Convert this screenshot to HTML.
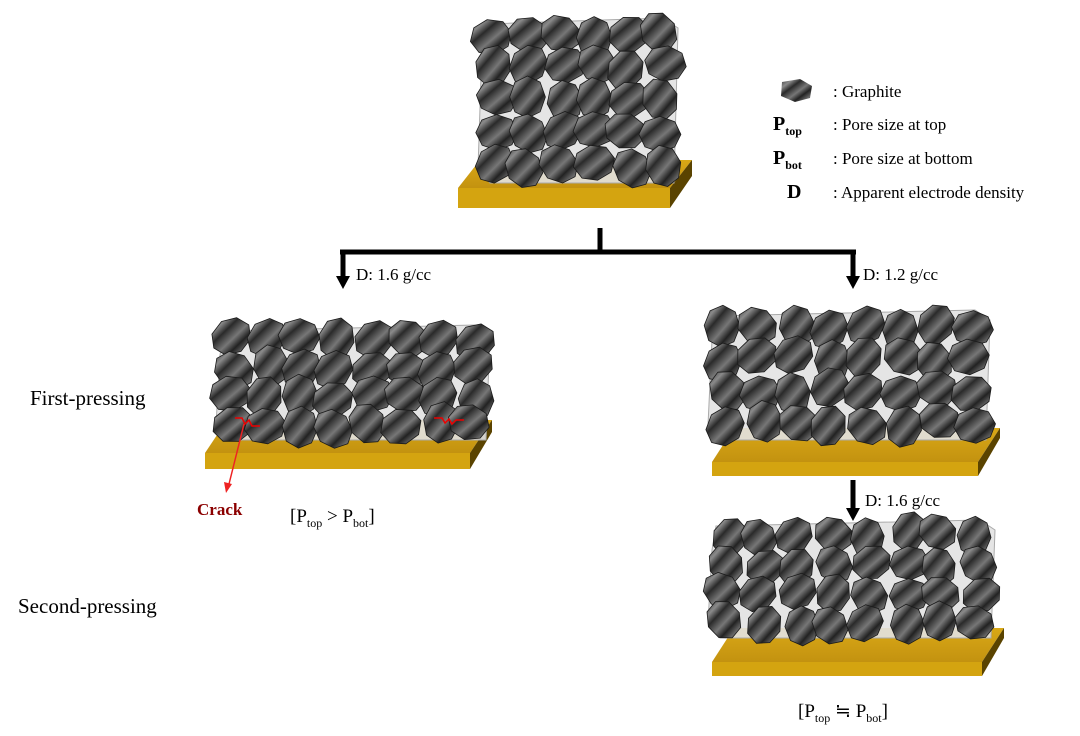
<!DOCTYPE html>
<html><head><meta charset="utf-8"><style>
body{margin:0;background:#fff;width:1080px;height:736px;overflow:hidden}
svg{position:absolute;left:0;top:0}
text{font-family:"Liberation Serif",serif;fill:#000}
</style></head><body>
<svg id="s" width="1080" height="736" viewBox="0 0 1080 736">
<defs>
<linearGradient id="g" x1="0" y1="0" x2="1" y2="1">
<stop offset="0" stop-color="#3a3a3a"/><stop offset=".2" stop-color="#8a8a8a"/><stop offset=".35" stop-color="#2a2a2a"/><stop offset=".55" stop-color="#777"/><stop offset=".7" stop-color="#222"/><stop offset=".85" stop-color="#6a6a6a"/><stop offset="1" stop-color="#2a2a2a"/>
</linearGradient>
<linearGradient id="au" x1="0" y1="0" x2="0" y2="1"><stop offset="0" stop-color="#d9a816"/><stop offset="1" stop-color="#c39210"/></linearGradient>
</defs>
<g id="blocks"></g>
<path d="M600,228 V252 M340,252 H856" stroke="#000" stroke-width="5" fill="none"/>
<path d="M343,250 V278" stroke="#000" stroke-width="5"/><polygon points="336,276 350,276 343,289" fill="#000"/>
<path d="M853,250 V278" stroke="#000" stroke-width="5"/><polygon points="846,276 860,276 853,289" fill="#000"/>
<path d="M853,480 V510" stroke="#000" stroke-width="5"/><polygon points="846,508 860,508 853,521" fill="#000"/>
<text x="356" y="280" font-size="17">D: 1.6 g/cc</text>
<text x="863" y="280" font-size="17">D: 1.2 g/cc</text>
<text x="865" y="506" font-size="17">D: 1.6 g/cc</text>
<text x="30" y="405" font-size="21">First-pressing</text>
<text x="18" y="613" font-size="21">Second-pressing</text>
<polygon points="782,82 800,79 812,86 810,98 795,102 781,96" fill="url(#g)"/>
<text x="833" y="97" font-size="17">:  Graphite</text>
<text x="773" y="130" font-size="20" font-weight="bold">P<tspan font-size="12" dy="5">top</tspan></text>
<text x="833" y="130" font-size="17">:  Pore size at top</text>
<text x="773" y="164" font-size="20" font-weight="bold">P<tspan font-size="12" dy="5">bot</tspan></text>
<text x="833" y="164" font-size="17">:  Pore size at bottom</text>
<text x="787" y="198" font-size="20" font-weight="bold">D</text>
<text x="833" y="198" font-size="17">:  Apparent electrode density</text>
<path d="M235,418 h7 l3,6 l4,-4 l3,6 h8" stroke="#e00" stroke-width="1.5" fill="none"/>
<path d="M434,418 h8 l3,5 l4,-4 l3,5 l4,-4 h8" stroke="#e00" stroke-width="1.5" fill="none"/>
<path d="M244,424 L229,484" stroke="#e22" stroke-width="1.5"/><polygon points="224,482 232,484 226,493" fill="#e22"/>
<text x="197" y="515" font-size="17" style="fill:#8b0000" font-weight="bold">Crack</text>
<text x="290" y="522" font-size="19">[P<tspan font-size="12" dy="5">top</tspan><tspan dy="-5"> &gt; P</tspan><tspan font-size="12" dy="5">bot</tspan><tspan dy="-5">]</tspan></text>
<text x="798" y="717" font-size="19">[P<tspan font-size="12" dy="5">top</tspan><tspan dy="-5"> ≒ P</tspan><tspan font-size="12" dy="5">bot</tspan><tspan dy="-5">]</tspan></text>
</svg>
<script>
var NS="http://www.w3.org/2000/svg",G=document.getElementById('blocks');
function el(t,a){var e=document.createElementNS(NS,t);for(var k in a)e.setAttribute(k,a[k]);G.appendChild(e);return e;}
function rnd(i){var x=Math.sin(i*12.9898)*43758.5453;return x-Math.floor(x);}
var seed=1;
function block(fx,fy,fw,fh,px,py,pw,ph,th,cols,rows,sz){
 var d=22;
 el('polygon',{points:[px,py+ph,px+d,py,px+pw+d,py,px+pw,py+ph].join(' '),fill:'url(#au)'});
 el('polygon',{points:[px,py+ph,px+pw,py+ph,px+pw,py+ph+th,px,py+ph+th].join(' '),fill:'#d4a410'});
 el('polygon',{points:[px+pw,py+ph,px+pw+d,py,px+pw+d,py+th-4,px+pw,py+ph+th].join(' '),fill:'#5a4300'});
 el('path',{d:'M'+(fx+8)+','+(fy+6)+' L'+(fx+fw-15)+','+fy+' L'+(fx+fw)+','+(fy+10)+' L'+(fx+fw-4)+','+(fy+fh)+' L'+(fx+12)+','+(fy+fh)+' L'+fx+','+(fy+fh-15)+' L'+(fx+4)+','+(fy+30)+' Z',fill:'#e2e2e2',stroke:'#aaa','fill-opacity':0.9});
 var cw=fw/cols,ch=fh/rows;
 for(var r=0;r<rows;r++)for(var c=0;c<cols;c++){
  seed++;var cx=fx+cw*(c+0.5)+(rnd(seed)-0.5)*cw*0.25,cy=fy+ch*(r+0.5)+(rnd(seed+50)-0.5)*ch*0.25;
  var a=rnd(seed+99)*Math.PI,rx=sz,ry=sz*0.85,pts=[];
  for(var k=0;k<8;k++){var t=k*Math.PI/4;var x=Math.cos(t)*rx,y=Math.sin(t)*ry;pts.push((cx+x*Math.cos(a)-y*Math.sin(a)).toFixed(1)+','+(cy+x*Math.sin(a)+y*Math.cos(a)).toFixed(1));}
  el('polygon',{points:pts.join(' '),fill:'url(#g)',stroke:'#1a1a1a','stroke-width':0.8,'stroke-linejoin':'round'});
 }
}
block(478,18,200,165,458,160,212,28,20,6,5,21);
block(216,325,274,115,205,420,265,33,16,8,4,21);
block(708,310,282,130,712,428,266,34,14,8,4,21);
block(708,520,287,118,712,628,270,34,14,8,4,20);
</script>
</body></html>
